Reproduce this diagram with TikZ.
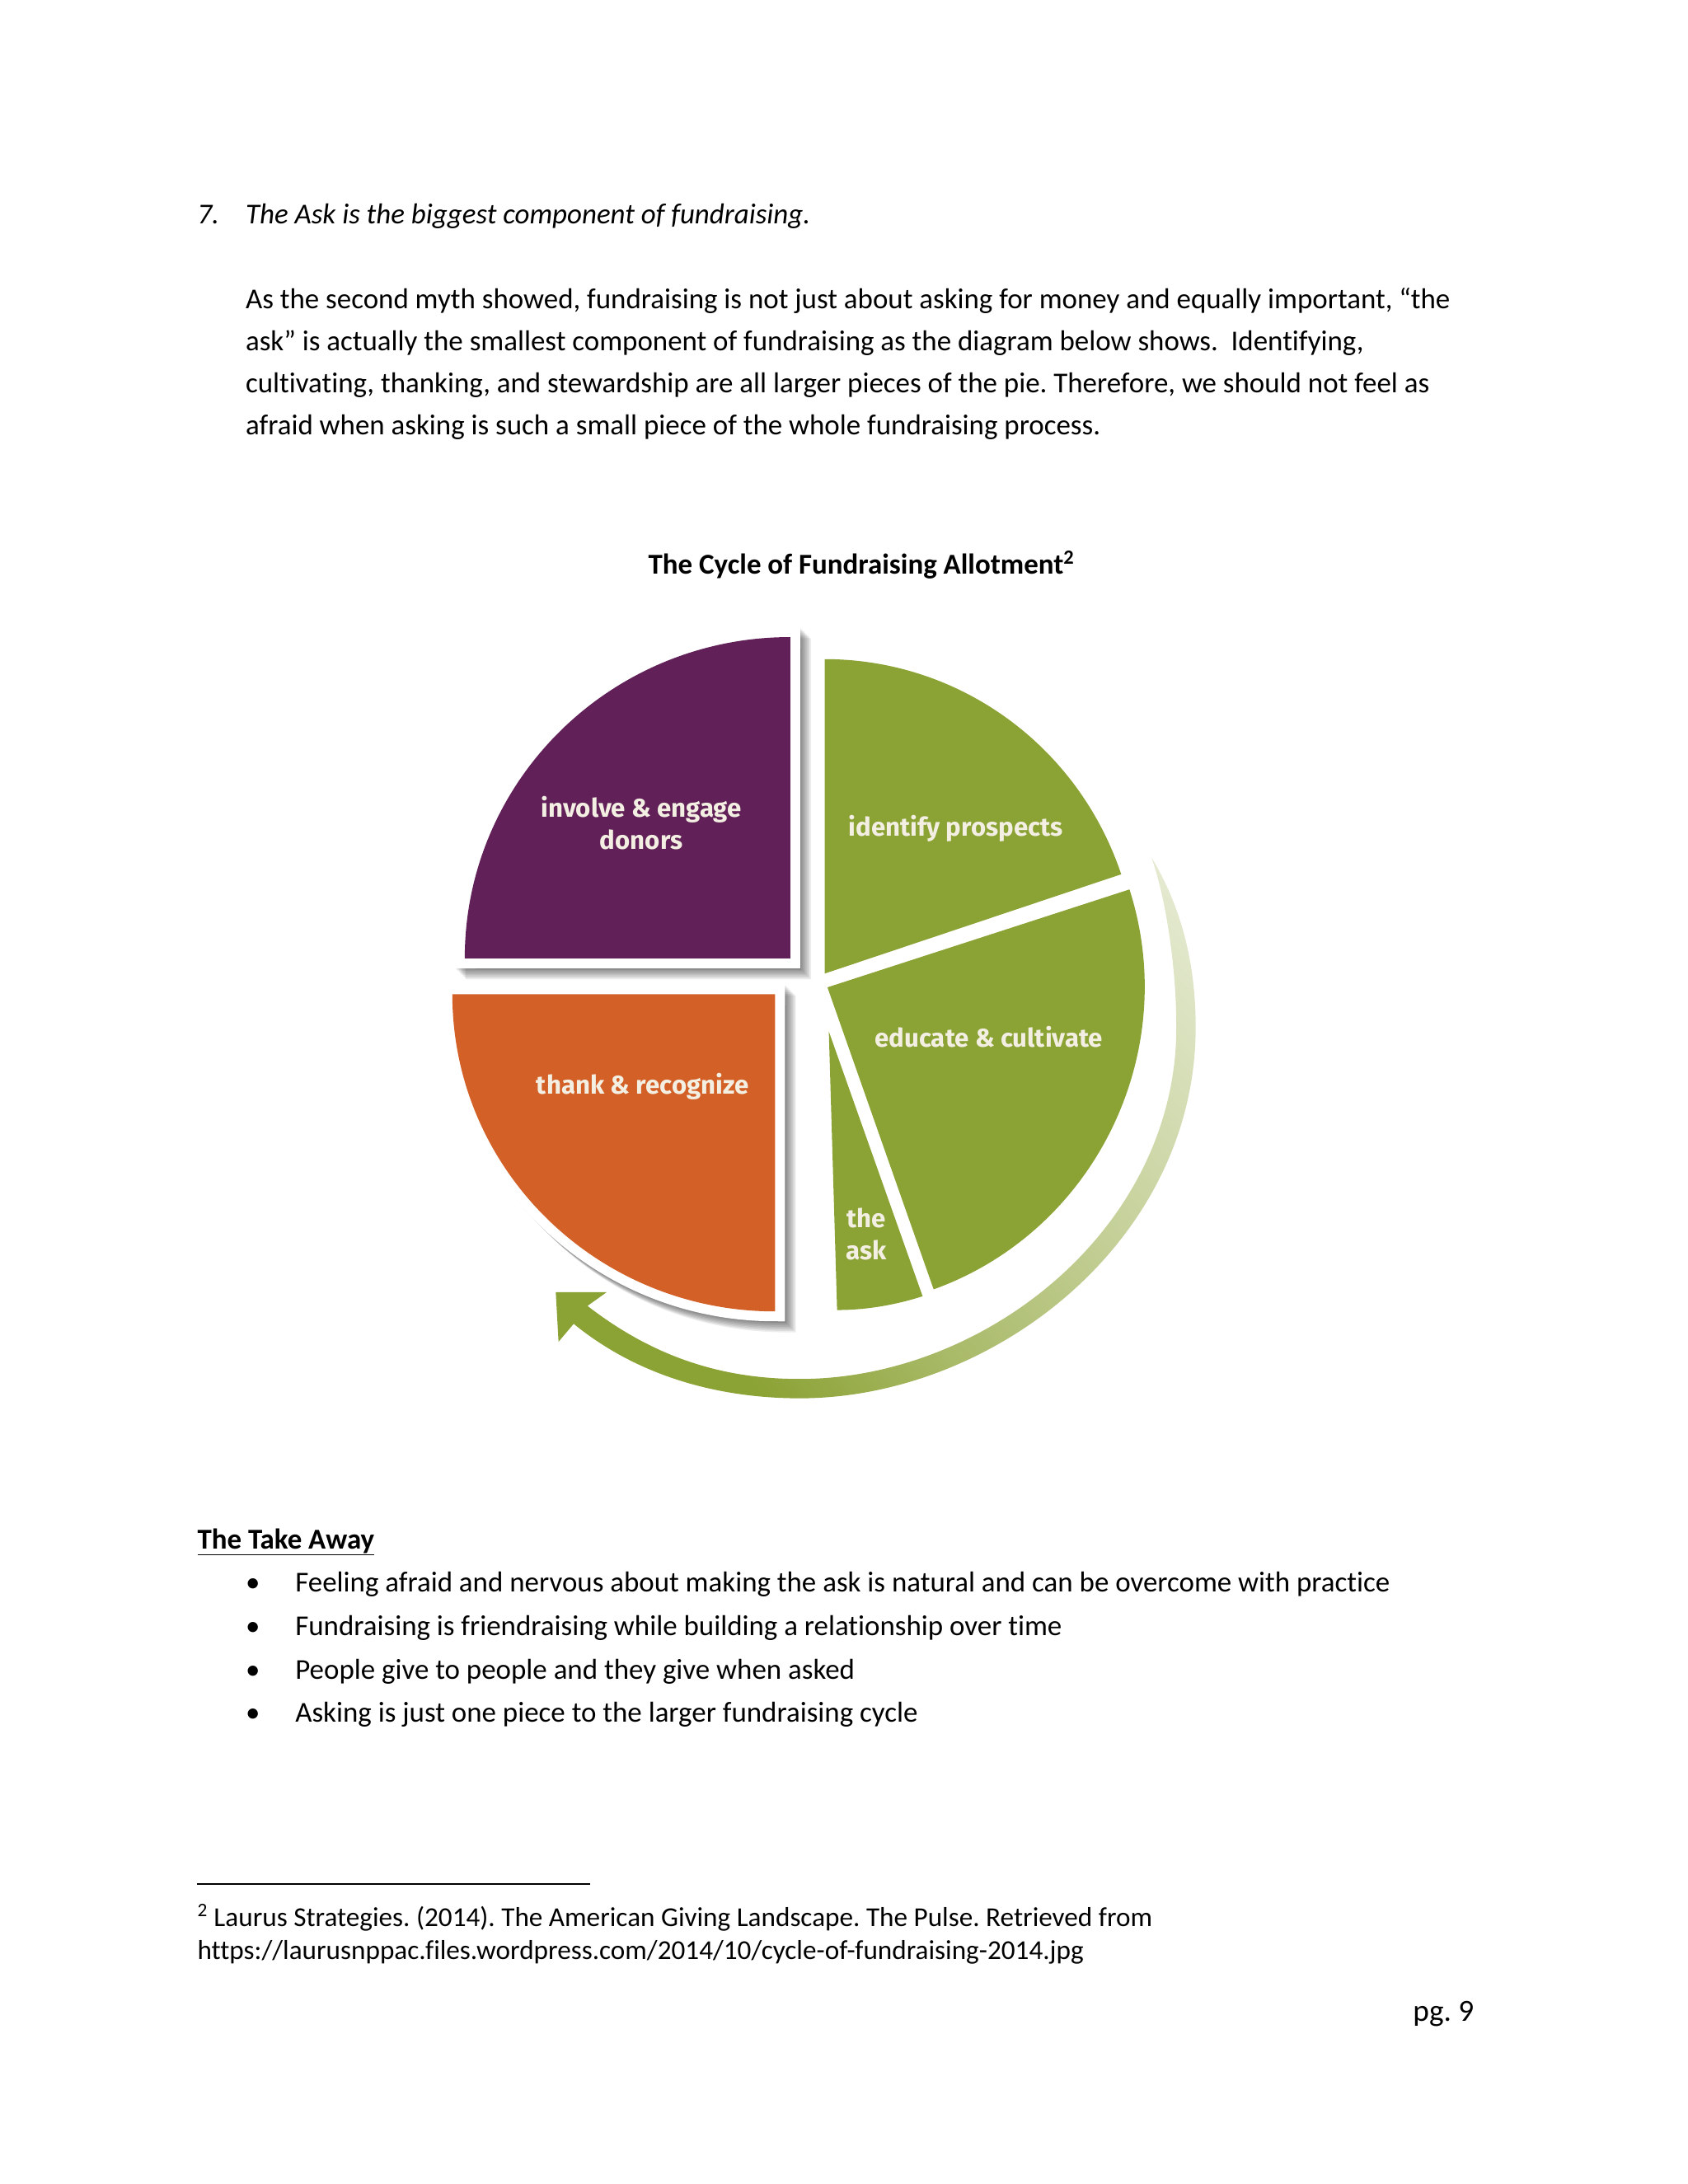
\documentclass[tikz,border=0pt]{standalone}
\usepackage{fontspec}
\setmainfont[Ligatures={TeX,NoCommon}]{Carlito}
\newfontfamily\piefont{Fira Sans}
\usetikzlibrary{positioning}
\frenchspacing

\definecolor{piepurple}{RGB}{97,33,88}
\definecolor{piegreen}{RGB}{139,162,52}
\definecolor{pieorange}{RGB}{211,97,39}
\definecolor{pietext}{RGB}{243,239,227}

\pgfdeclarehorizontalshading{swoosh}{100bp}{color(0bp)=(piegreen); color(28bp)=(piegreen); color(42bp)=(piegreen!75!white); color(60bp)=(piegreen!50!white); color(81bp)=(piegreen!25!white); color(92bp)=(piegreen!8!white); color(100bp)=(white)}

\newcommand{\wedgeinvolve}{(573,695) -- (337,695) .. controls (337,566.3) and (442.7,462) .. (573,462) -- cycle}
\newcommand{\wedgethank}{(562,721) -- (328,721) .. controls (328,848) and (432.8,951) .. (562,951) -- cycle}

\tikzset{
	body text/.style={anchor=base west, inner sep=0pt, font=\fontsize{26.2}{34}\selectfont},
	note text/.style={anchor=base west, inner sep=0pt, font=\fontsize{24.9}{30}\selectfont},
	pie text/.style={inner sep=0pt, text=pietext, align=center, font=\piefont\bfseries\fontsize{23.4}{29}\selectfont},
	pie rim/.style={draw=white, fill=white, line width=18pt, line join=miter},
	pie shadow/.style={draw=black, fill=black, line width=18pt, line join=miter, opacity=0.07}
}

\begin{document}
\begin{tikzpicture}[x=1.2549pt,y=1.2549pt,yscale=-1,xscale=1]
	\useasboundingbox (0,0) rectangle (1224,1583.8);

	% Text Node
	\node [body text] (num7) at (143,162.5) {\itshape 7.};
	\node [body text] (myth) at (178,162.5) {\itshape The Ask is the biggest component of fundraising.};
	\node [body text] (para1) at (178,224) {As the second myth showed, fundraising is not just about asking for money and equally important, “the};
	\node [body text] (para2) at (178,254.5) {ask” is actually the smallest component of fundraising as the diagram below shows.~ Identifying,};
	\node [body text] (para3) at (178,285) {cultivating, thanking, and stewardship are all larger pieces of the pie. Therefore, we should not feel as};
	\node [body text] (para4) at (178,315.5) {afraid when asking is such a small piece of the whole fundraising process.};
	\node [body text] (title) at (470,416) {\bfseries The Cycle of Fundraising Allotment\textsuperscript{2}};

	%Shape: Shadows
	\foreach \k in {1,...,8} {
		\path [pie shadow, shift={(\k,\k)}] \wedgeinvolve;
		\path [pie shadow, shift={(\k,\k)}] \wedgethank;
	}
	%Shape: Rims
	\path [pie rim] \wedgeinvolve;
	\path [pie rim] \wedgethank;

	%Shape: Wedges
	\fill [piepurple] \wedgeinvolve;
	\fill [pieorange] \wedgethank;
	\fill [piegreen] (598,706) -- (598,478) .. controls (696,478) and (781.9,541.1) .. (813,634) -- cycle;
	\fill [piegreen] (600,716) -- (819,645) .. controls (857,763.4) and (794,892.8) .. (677,935) -- cycle;
	\fill [piegreen] (601,748) -- (669,940) .. controls (649,946.4) and (628,950) .. (607,950) -- cycle;

	%Shape: Arrow
	\path [shading=swoosh, shading angle=40] (403,937) -- (440,937) -- (426,947) .. controls (475,985) and (525,1000) .. (580,1000) .. controls (715,1000) and (853,890) .. (853,745) .. controls (853,700) and (845,650) .. (835,622) .. controls (855,655) and (867,695) .. (867,745) .. controls (867,900) and (720,1014) .. (580,1014) .. controls (525,1014) and (465,1000) .. (416,960) -- (405,973) -- cycle;

	% Text Node
	\node [pie text] (involve) at (465,597) {involve \& engage\\donors};
	\node [pie text] (identify) at (693,601) {identify prospects};
	\node [pie text] (educate) at (717,752) {educate \& cultivate};
	\node [pie text] (thank) at (466,788) {thank \& recognize};
	\node [pie text] (ask) at (628,895) {the\\ask};

	% Text Node
	\node [body text] (takeaway) at (143,1123) {\bfseries\underline{The Take Away}};
	\foreach \y/\name/\words in {
		1154.5/bulA/Feeling afraid and nervous about making the ask is natural and can be overcome with practice,
		1186/bulB/Fundraising is friendraising while building a relationship over time,
		1217.5/bulC/People give to people and they give when asked,
		1249/bulD/Asking is just one piece to the larger fundraising cycle} {
		\node [body text] (\name dot) at (178,\y) {\textbullet};
		\node [body text] (\name) at (214,\y) {\words};
	}

	%Straight Lines
	\coordinate (ruleL) at (143,1366);
	\coordinate (ruleR) at (428,1366);
	\draw [line width=1.6pt] (ruleL) -- (ruleR);

	% Text Node
	\node [note text] (note1) at (143,1397) {\textsuperscript{2} Laurus Strategies. (2014). The American Giving Landscape. The Pulse. Retrieved from};
	\node [note text] (note2) at (143,1421) {https://laurusnppac.files.wordpress.com/2014/10/cycle-of-fundraising-2014.jpg};
	\node [body text, anchor=base east, font=\fontsize{28}{34}\selectfont] (page) at (1069,1466) {pg. 9};
\end{tikzpicture}
\end{document}
